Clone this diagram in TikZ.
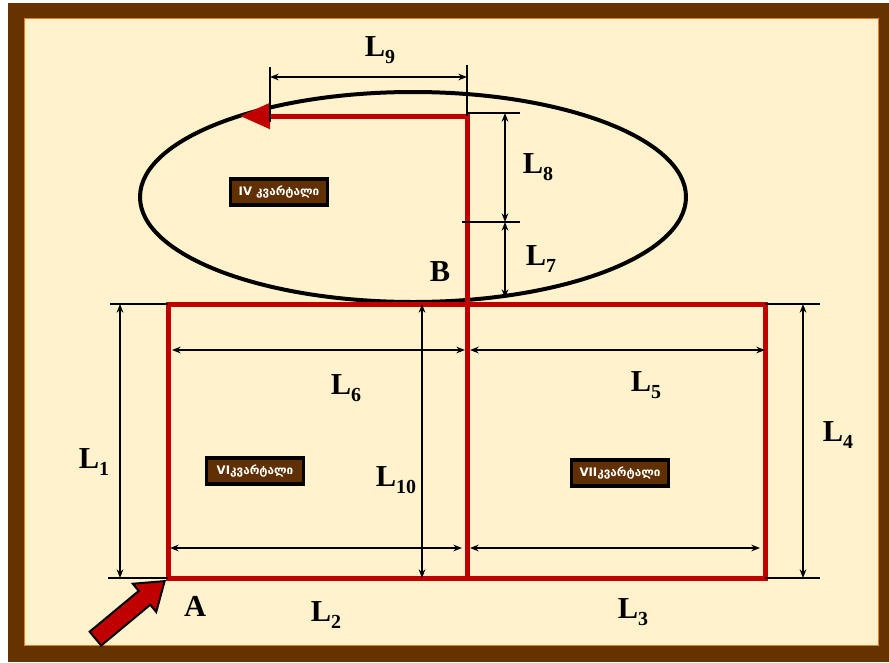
\documentclass[tikz,border=0pt]{standalone}
\usepackage{fontspec}
\setmainfont{Liberation Serif}
\newfontfamily\geofont{DejaVu Sans}
\usetikzlibrary{arrows.meta,shapes.arrows}
\definecolor{framebrown}{HTML}{663300}
\definecolor{paper}{HTML}{FFF2CC}
\definecolor{plotred}{HTML}{C00000}
\definecolor{tagbrown}{HTML}{603000}
\newcommand{\Lsub}[1]{L\raisebox{-0.45ex}{\fontsize{17}{17}\selectfont #1}}

\begin{document}
\begin{tikzpicture}[x=0.03cm, y=-0.03cm,
  >={Stealth[length=2.6mm,width=2mm]},
  boundary/.style={plotred, line width=1.5mm},
  dim/.style={<->, line width=0.45mm},
  tick/.style={line width=0.75mm},
  lbl/.style={font=\fontsize{26}{28}\selectfont\bfseries, inner sep=0pt},
  tag/.style={draw=black, line width=1mm, fill=tagbrown, text=white,
    font=\geofont\bfseries\fontsize{10}{10}\selectfont, minimum width=2.9cm,
    minimum height=0.78cm, inner sep=1pt},
]
% frame and background
\fill[white] (0,0) rectangle (889,662);
\fill[framebrown] (8,3) rectangle (889,662);
\fill[paper] (24,18) rectangle (878,645);
\draw[orange!60!brown, line width=0.3mm] (24,18) rectangle (878,645);

% quarter IV
\draw[line width=1.2mm] (413,197) ellipse [x radius=273, y radius=105];

% quarters VI and VII
\draw[boundary] (168,304) rectangle (765,578);
\draw[boundary, -{Triangle[length=9mm,width=7.5mm]}] (467,578) -- (467,116) -- (240,116);

% extension lines
\draw[tick] (270,67) -- (270,122);
\draw[tick] (467,65) -- (467,116);
\draw[tick] (467,113) -- (520,113);
\draw[tick] (462,222) -- (520,222);
\draw[tick] (110,304) -- (168,304);
\draw[tick] (108,578) -- (168,578);
\draw[tick] (765,304) -- (820,304);
\draw[tick] (765,578) -- (820,578);

% dimensions
\draw[dim] (270,77) -- (467,77);
\draw[dim] (505,113) -- (505,222);
\draw[dim] (505,222) -- (505,298);
\draw[dim] (120,304) -- (120,578);
\draw[dim] (803,304) -- (803,578);
\draw[dim] (172,350) -- (465,350);
\draw[dim] (470,350) -- (765,350);
\draw[dim] (422,304) -- (422,578);
\draw[dim] (170,548) -- (462,548);
\draw[dim] (470,548) -- (760,548);

\node[lbl] (l9)  at (380,50)  {\Lsub{9}};
\node[lbl] (l8)  at (538,167) {\Lsub{8}};
\node[lbl] (l7)  at (541,259) {\Lsub{7}};
\node[lbl] (l1)  at (94,462)  {\Lsub{1}};
\node[lbl] (l4)  at (838,435) {\Lsub{4}};
\node[lbl] (l6)  at (346,388) {\Lsub{6}};
\node[lbl] (l5)  at (646,385) {\Lsub{5}};
\node[lbl] (l10) at (396,480) {\Lsub{10}};
\node[lbl] (l2)  at (326,615) {\Lsub{2}};
\node[lbl] (l3)  at (633,612) {\Lsub{3}};
\node[lbl] (pb)  at (440,272) {B};
\node[lbl] (pa)  at (195,606) {A};

\node[tag] (iv)  at (279,192) {IV კვარტალი};
\node[tag] (vi)  at (255,471) {VIკვარტალი};
\node[tag] (vii) at (620,473) {VIIკვარტალი};

% entrance
\node[single arrow, draw=black, fill=plotred, line width=0.6mm, inner sep=0.24cm,
  single arrow head extend=0.28cm, single arrow tip angle=70,
  minimum height=2.7cm, rotate=39.7, anchor=tip] (entry) at (166,580) {};
\end{tikzpicture}
\end{document}
